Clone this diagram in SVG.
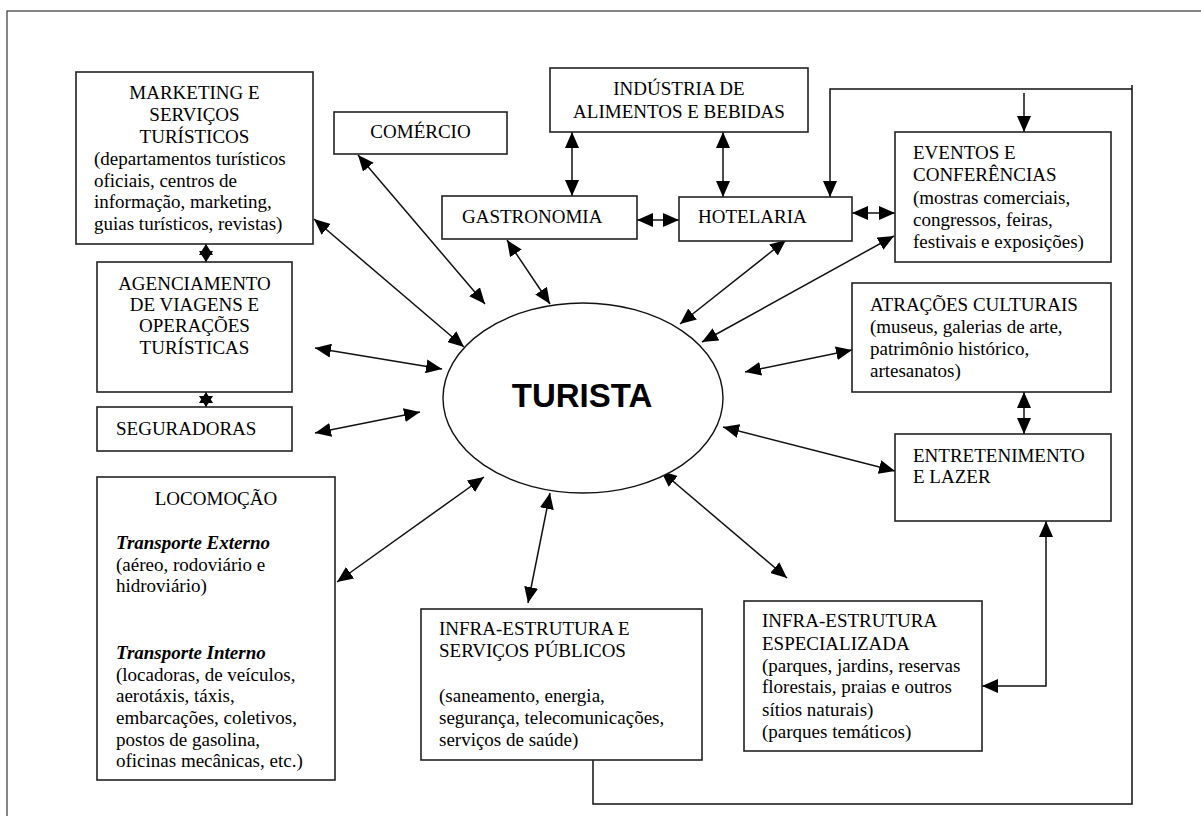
<svg xmlns="http://www.w3.org/2000/svg" width="1201" height="816" viewBox="0 0 1201 816">
<style>
.box{fill:#fff;stroke:#222;stroke-width:1.6}
.t{font-family:"Liberation Serif","Times New Roman",serif;font-size:19px;fill:#000}
.c{text-anchor:middle}
.bi{font-weight:bold;font-style:italic}
.ln{fill:none;stroke:#111;stroke-width:1.5}
.a2{marker-start:url(#ah);marker-end:url(#ah)}
.a1{marker-end:url(#ah)}
.s2{marker-start:url(#sh);marker-end:url(#sh)}
</style>
<defs>
<marker id="ah" viewBox="0 0 16 14" refX="16" refY="7" markerWidth="16" markerHeight="14" markerUnits="userSpaceOnUse" orient="auto-start-reverse">
<path d="M0,0 L16,7 L0,14 z" fill="#000"/>
</marker>
<marker id="sh" viewBox="0 0 11 14" refX="11" refY="7" markerWidth="11" markerHeight="14" markerUnits="userSpaceOnUse" orient="auto-start-reverse">
<path d="M0,0 L11,7 L0,14 z" fill="#000"/>
</marker>
</defs>
<rect x="7" y="11" width="1210" height="900" fill="#fff" stroke="#444" stroke-width="1.3"/>

<g id="connectors">
<line class="ln a2" x1="314" y1="219" x2="464" y2="347"/>
<line class="ln a2" x1="358" y1="155" x2="485" y2="304"/>
<line class="ln a2" x1="507" y1="240" x2="550" y2="304"/>
<line class="ln a2" x1="786" y1="240" x2="680" y2="324"/>
<line class="ln a2" x1="894" y1="236" x2="702" y2="342"/>
<line class="ln a2" x1="315" y1="348" x2="442" y2="369"/>
<line class="ln a2" x1="315" y1="433" x2="420" y2="412"/>
<line class="ln a2" x1="337" y1="582" x2="484" y2="477"/>
<line class="ln a2" x1="528" y1="603" x2="550" y2="493"/>
<line class="ln a2" x1="787" y1="578" x2="661" y2="471"/>
<line class="ln a2" x1="745" y1="372" x2="852" y2="350"/>
<line class="ln a2" x1="723" y1="427" x2="895" y2="471"/>
<line class="ln a2" x1="572" y1="132" x2="572" y2="196"/>
<line class="ln a2" x1="723" y1="132" x2="723" y2="197"/>
<line class="ln a2" x1="637" y1="220" x2="679" y2="220"/>
<line class="ln a2" x1="852" y1="213" x2="895" y2="213"/>
<line class="ln s2" x1="206" y1="244" x2="206" y2="262"/>
<line class="ln s2" x1="206" y1="392" x2="206" y2="407"/>
<line class="ln a2" x1="1024" y1="392" x2="1024" y2="434"/>
<path class="ln a2" d="M1046,521 V686 H982"/>
<path class="ln" d="M593,760 V804 H1132 V85"/>
<path class="ln a1" d="M1132,89 H830 V197"/>
<line class="ln a1" x1="1024" y1="93" x2="1024" y2="132"/>
</g>

<g id="marketing">
<rect class="box" x="76" y="72" width="237" height="172"/>
<text class="t c" x="194.5" y="99">MARKETING E</text>
<text class="t c" x="194.5" y="121">SERVIÇOS</text>
<text class="t c" x="194.5" y="143">TURÍSTICOS</text>
<text class="t" x="94" y="165">(departamentos turísticos</text>
<text class="t" x="94" y="187">oficiais, centros de</text>
<text class="t" x="94" y="208">informação, marketing,</text>
<text class="t" x="94" y="230">guias turísticos, revistas)</text>
</g>

<g id="comercio">
<rect class="box" x="334" y="112" width="173" height="42"/>
<text class="t c" x="420.5" y="138">COMÉRCIO</text>
</g>

<g id="industria">
<rect class="box" x="550" y="68" width="258" height="64"/>
<text class="t c" x="679" y="95">INDÚSTRIA DE</text>
<text class="t c" x="679" y="118">ALIMENTOS E BEBIDAS</text>
</g>

<g id="gastronomia">
<rect class="box" x="442" y="196" width="195" height="43"/>
<text class="t" x="462" y="223">GASTRONOMIA</text>
</g>

<g id="hotelaria">
<rect class="box" x="679" y="197" width="173" height="44"/>
<text class="t" x="698" y="223">HOTELARIA</text>
</g>

<g id="eventos">
<rect class="box" x="895" y="132" width="216" height="130"/>
<text class="t" x="913" y="159">EVENTOS E</text>
<text class="t" x="913" y="181">CONFERÊNCIAS</text>
<text class="t" x="913" y="204">(mostras comerciais,</text>
<text class="t" x="913" y="226">congressos, feiras,</text>
<text class="t" x="913" y="248">festivais e exposições)</text>
</g>

<g id="agenciamento">
<rect class="box" x="97" y="262" width="195" height="130"/>
<text class="t c" x="194.5" y="290">AGENCIAMENTO</text>
<text class="t c" x="194.5" y="311">DE VIAGENS E</text>
<text class="t c" x="194.5" y="332">OPERAÇÕES</text>
<text class="t c" x="194.5" y="354">TURÍSTICAS</text>
</g>

<g id="seguradoras">
<rect class="box" x="97" y="407" width="195" height="44"/>
<text class="t" x="116" y="435">SEGURADORAS</text>
</g>

<g id="turista">
<ellipse cx="583" cy="398" rx="140" ry="95" fill="#fff" stroke="#111" stroke-width="1.4"/>
<text x="582" y="407" text-anchor="middle" style="font-family:'Liberation Sans',Arial,sans-serif;font-size:33px;font-weight:bold;fill:#000">TURISTA</text>
</g>

<g id="atracoes">
<rect class="box" x="852" y="283" width="259" height="109"/>
<text class="t" x="870" y="311">ATRAÇÕES CULTURAIS</text>
<text class="t" x="870" y="333">(museus, galerias de arte,</text>
<text class="t" x="870" y="355">patrimônio histórico,</text>
<text class="t" x="870" y="377">artesanatos)</text>
</g>

<g id="entretenimento">
<rect class="box" x="895" y="434" width="216" height="87"/>
<text class="t" x="913" y="462">ENTRETENIMENTO</text>
<text class="t" x="913" y="483">E LAZER</text>
</g>

<g id="locomocao">
<rect class="box" x="97" y="477" width="238" height="303"/>
<text class="t c" x="216" y="505">LOCOMOÇÃO</text>
<text class="t bi" x="116" y="549">Transporte Externo</text>
<text class="t" x="116" y="571">(aéreo, rodoviário e</text>
<text class="t" x="116" y="592">hidroviário)</text>
<text class="t bi" x="116" y="659">Transporte Interno</text>
<text class="t" x="116" y="681">(locadoras, de veículos,</text>
<text class="t" x="116" y="702">aerotáxis, táxis,</text>
<text class="t" x="116" y="724">embarcações, coletivos,</text>
<text class="t" x="116" y="746">postos de gasolina,</text>
<text class="t" x="116" y="767">oficinas mecânicas, etc.)</text>
</g>

<g id="infra-publicos">
<rect class="box" x="421" y="609" width="281" height="151"/>
<text class="t" x="439" y="635">INFRA-ESTRUTURA E</text>
<text class="t" x="439" y="657">SERVIÇOS PÚBLICOS</text>
<text class="t" x="439" y="702">(saneamento, energia,</text>
<text class="t" x="439" y="724">segurança, telecomunicações,</text>
<text class="t" x="439" y="746">serviços de saúde)</text>
</g>

<g id="infra-especializada">
<rect class="box" x="744" y="601" width="238" height="150"/>
<text class="t" x="762" y="627">INFRA-ESTRUTURA</text>
<text class="t" x="762" y="650">ESPECIALIZADA</text>
<text class="t" x="762" y="672">(parques, jardins, reservas</text>
<text class="t" x="762" y="693">florestais, praias e outros</text>
<text class="t" x="762" y="716">sítios naturais)</text>
<text class="t" x="762" y="738">(parques temáticos)</text>
</g>
</svg>
